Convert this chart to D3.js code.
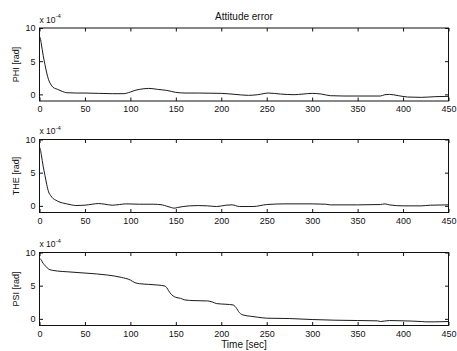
<!DOCTYPE html>
<html>
<head>
<meta charset="utf-8">
<script src="https://cdn.jsdelivr.net/npm/d3@7"></script>
<style>
  html, body { margin: 0; padding: 0; background: #fff; }
  svg { display: block; }
  text { font-family: "Liberation Sans", Arial, sans-serif; fill: #111; }
</style>
</head>
<body>
<svg id="chart" width="457" height="351"></svg>
<script>
// Attitude error traces (units of 1e-4 rad) against time in seconds
const phiTime = [0, 1, 2, 4, 6, 8, 10, 12, 15, 18, 20, 25, 30, 40, 50, 65, 80, 92, 100, 105, 110, 115, 120, 125, 130, 140, 150, 160, 175, 200, 215, 230, 240, 252, 265, 280, 290, 300, 310, 320, 335, 350, 375, 380, 385, 395, 405, 420, 435, 450];
const phiValues = [8.7, 8.4, 7.6, 5.9, 4.5, 3.2, 2.2, 1.6, 1.05, 0.85, 0.75, 0.45, 0.25, 0.2, 0.2, 0.15, 0.1, 0.1, 0.35, 0.6, 0.75, 0.85, 0.9, 0.85, 0.75, 0.6, 0.3, 0.2, 0.2, 0.15, 0.0, -0.15, -0.05, 0.2, 0.05, -0.05, 0.05, 0.15, 0.05, -0.2, -0.25, -0.25, -0.25, -0.05, 0.0, -0.2, -0.4, -0.45, -0.35, -0.3];

const theTime = [0, 1, 2, 4, 6, 8, 10, 12, 15, 18, 20, 25, 30, 35, 40, 50, 58, 65, 72, 80, 88, 95, 110, 125, 135, 140, 145, 148, 152, 158, 165, 175, 185, 195, 205, 212, 220, 235, 250, 270, 300, 315, 320, 350, 375, 380, 385, 400, 420, 430, 450];
const theValues = [8.8, 8.5, 7.7, 6.0, 4.6, 3.2, 2.1, 1.6, 1.1, 0.85, 0.7, 0.45, 0.3, 0.15, 0.05, 0.1, 0.25, 0.35, 0.25, 0.1, 0.2, 0.3, 0.25, 0.25, 0.15, -0.05, -0.25, -0.35, -0.25, -0.1, 0.0, 0.05, 0.0, -0.1, 0.1, 0.15, -0.1, -0.1, 0.2, 0.3, 0.3, 0.25, 0.15, 0.15, 0.2, 0.3, 0.15, 0.0, 0.0, 0.1, 0.15];

const psiTime = [0, 1, 2, 3, 5, 7, 10, 13, 15, 20, 30, 50, 75, 90, 100, 105, 110, 120, 130, 138, 140, 142, 145, 147, 150, 155, 160, 170, 185, 190, 195, 205, 213, 215, 217, 219, 221, 225, 232, 240, 250, 275, 300, 325, 350, 372, 375, 385, 400, 420, 425, 435, 450];
const psiValues = [9.1, 9.0, 8.9, 8.6, 8.2, 7.9, 7.5, 7.35, 7.3, 7.2, 7.1, 6.9, 6.6, 6.25, 5.85, 5.45, 5.3, 5.2, 5.1, 4.95, 4.7, 4.25, 3.7, 3.45, 3.25, 3.1, 2.85, 2.75, 2.7, 2.55, 2.3, 2.2, 2.1, 1.9, 1.55, 1.1, 0.8, 0.55, 0.4, 0.25, 0.1, 0.05, -0.1, -0.2, -0.25, -0.3, -0.4, -0.25, -0.3, -0.4, -0.45, -0.45, -0.4];

const panelLabels = ["PHI [rad]", "THE [rad]", "PSI [rad]"];
const xTickValues = [0, 50, 100, 150, 200, 250, 300, 350, 400, 450];
const yTickValues = [0, 5, 10];
const titleText = "Attitude error";
const xLabelText = "Time [sec]";

const series = [
  { t: phiTime, v: phiValues },
  { t: theTime, v: theValues },
  { t: psiTime, v: psiValues }
];

const svg = d3.select("#chart");
const left = 39.5, right = 448.5;
const panelTops = [28, 139.5, 252.5];
const panelHeight = 73;
const tickLen = 3.5;

const x = d3.scaleLinear().domain([0, 450]).range([left, right]);

svg.append("rect").attr("width", 457).attr("height", 351).attr("fill", "#fff");

series.forEach((s, i) => {
  const top = panelTops[i];
  const bottom = top + panelHeight;
  const y = d3.scaleLinear().domain([-1, 10]).range([bottom, top]);
  const g = svg.append("g");

  // data trace
  const pts = s.t.map((t, k) => [t, s.v[k]]);
  g.append("path")
    .datum(pts)
    .attr("fill", "none")
    .attr("stroke", "#1a1a1a")
    .attr("stroke-width", 1)
    .attr("d", d3.line().x(d => x(d[0])).y(d => y(d[1])).curve(d3.curveMonotoneX));

  // bottom axis with labels, inward ticks
  const xb = g.append("g").attr("transform", `translate(0,${bottom})`)
    .call(d3.axisBottom(x).tickValues(xTickValues).tickSize(-tickLen).tickPadding(5).tickFormat(d3.format("d")));
  // top axis ticks only
  const xt = g.append("g").attr("transform", `translate(0,${top})`)
    .call(d3.axisTop(x).tickValues(xTickValues).tickSize(-tickLen).tickFormat(""));
  // left axis with labels
  const yl = g.append("g").attr("transform", `translate(${left},0)`)
    .call(d3.axisLeft(y).tickValues(yTickValues).tickSize(-tickLen).tickPadding(4).tickFormat(d3.format("d")));
  // right axis ticks only
  const yr = g.append("g").attr("transform", `translate(${right},0)`)
    .call(d3.axisRight(y).tickValues(yTickValues).tickSize(-tickLen).tickFormat(""));

  [xb, xt, yl, yr].forEach(a => {
    a.select(".domain").remove();
    a.selectAll("line").attr("stroke", "#111");
    a.selectAll("text").attr("font-size", 9).attr("fill", "#111")
      .attr("font-family", "Liberation Sans, Arial, sans-serif");
  });

  // axes box
  g.append("rect")
    .attr("x", left).attr("y", top)
    .attr("width", right - left).attr("height", panelHeight)
    .attr("fill", "none").attr("stroke", "#111").attr("stroke-width", 1);

  // exponent marker
  const ex = g.append("text").attr("x", left).attr("y", top - 5.5).attr("font-size", 8.5);
  ex.append("tspan").text("x 10");
  ex.append("tspan").attr("dy", -4.5).attr("font-size", 6).text("-4");

  // y label
  g.append("text")
    .attr("transform", `translate(19,${top + panelHeight / 2}) rotate(-90)`)
    .attr("text-anchor", "middle")
    .attr("font-size", 9)
    .text(panelLabels[i]);
});

svg.append("text")
  .attr("x", (left + right) / 2).attr("y", 20)
  .attr("text-anchor", "middle").attr("font-size", 10)
  .text(titleText);

svg.append("text")
  .attr("x", (left + right) / 2).attr("y", 348)
  .attr("text-anchor", "middle").attr("font-size", 10)
  .text(xLabelText);
</script>
</body>
</html>
